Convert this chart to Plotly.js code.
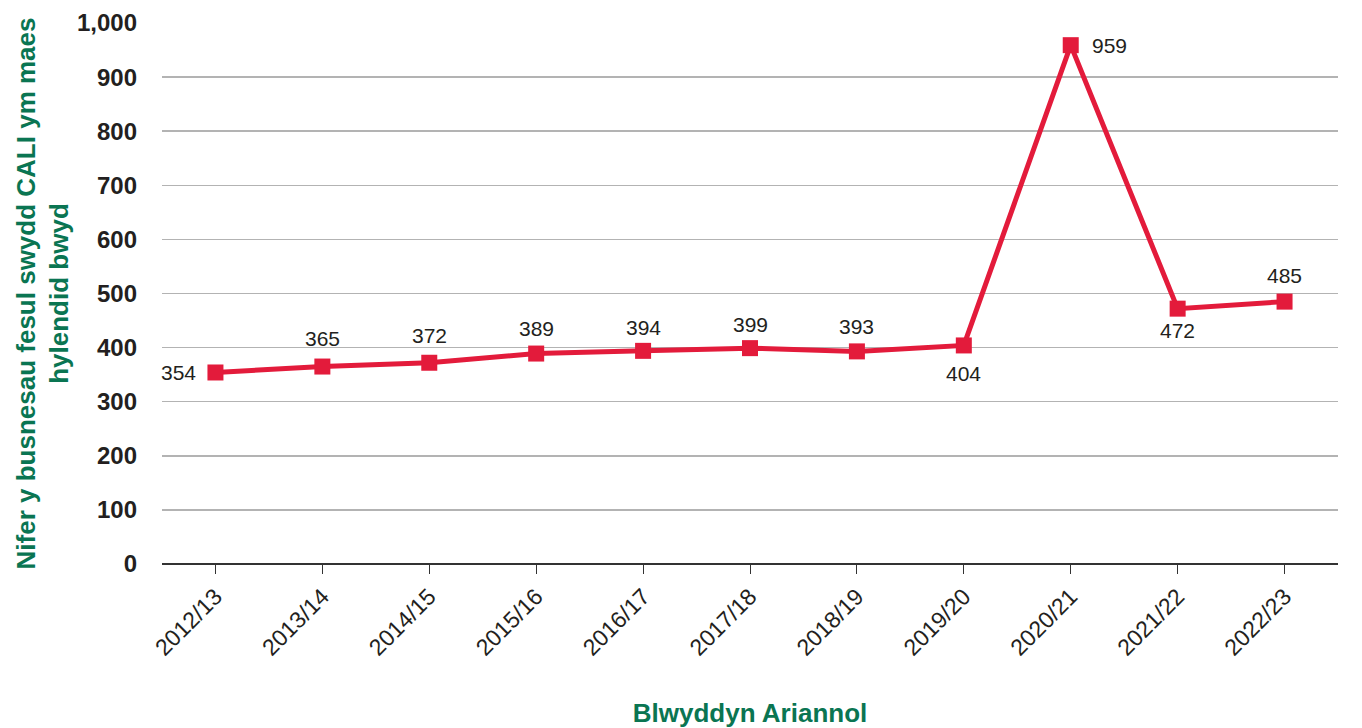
<!DOCTYPE html>
<html>
<head>
<meta charset="utf-8">
<script src="https://cdn.plot.ly/plotly-3.0.1.min.js"></script>
<style>html,body{margin:0;padding:0;background:#fff;}#chart{width:1362px;height:728px;}</style>
</head>
<body>
<div id="chart"></div>
<script>
const years = ["2012/13","2013/14","2014/15","2015/16","2016/17","2017/18","2018/19","2019/20","2020/21","2021/22","2022/23"];
const businessesPerOfficer = [354,365,372,389,394,399,393,404,959,472,485];
const yTickValues = [0,100,200,300,400,500,600,700,800,900,1000];

// label placement (style only): side of marker and pixel offset
const labelSide = ["left","top","top","top","top","top","top","bottom","right","bottom","top"];
const labelGap  = [17,28,27,25,23,24,25,28,19,22,26];

const green = "#0a7552";
const dark = "#231f20";
const fontFam = "Liberation Sans, Arial, sans-serif";

const trace = {
  x: years,
  y: businessesPerOfficer,
  type: "scatter",
  mode: "lines+markers",
  line: {color: "#e31b3b", width: 5},
  marker: {symbol: "square", size: 16, color: "#e31b3b"},
  cliponaxis: false,
  hoverinfo: "x+y"
};

const annotations = businessesPerOfficer.map((v, i) => {
  const side = labelSide[i], g = labelGap[i];
  const a = {
    x: years[i], y: v, xref: "x", yref: "y",
    text: String(v), showarrow: false,
    font: {family: fontFam, size: 21, color: dark},
    xanchor: "center", yanchor: "middle", xshift: 0, yshift: 0
  };
  if (side === "top") a.yshift = g;
  if (side === "bottom") a.yshift = -g;
  if (side === "left") { a.xanchor = "right"; a.xshift = -g; }
  if (side === "right") { a.xanchor = "left"; a.xshift = g; }
  return a;
});

const layout = {
  width: 1362, height: 728,
  margin: {l: 162, r: 24, t: 23, b: 164},
  paper_bgcolor: "#fff", plot_bgcolor: "#fff",
  showlegend: false,
  font: {family: fontFam, color: dark},
  annotations: annotations,
  xaxis: {
    type: "category",
    range: [-0.5, 10.5],
    tickangle: -45,
    tickfont: {size: 23, color: dark},
    ticks: "outside", ticklen: 9, tickcolor: "#333", tickwidth: 1,
    showline: false, showgrid: false, zeroline: false,
    title: {text: "<b>Blwyddyn Ariannol</b>", font: {size: 26, color: green}, standoff: 44}
  },
  yaxis: {
    range: [0, 1000],
    tickvals: yTickValues,
    tickformat: ",d",
    tickfont: {size: 24, color: dark, weight: "bold"},
    ticks: "", ticklabelstandoff: 24,
    showgrid: true, gridcolor: "#b3b3b3", gridwidth: 1.5,
    zeroline: true, zerolinecolor: "#333", zerolinewidth: 2,
    showline: false,
    title: {text: "<b>Nifer y busnesau fesul swydd CALI ym maes<br>hylendid bwyd</b>", font: {size: 26, color: green}, standoff: 0}
  }
};

Plotly.newPlot("chart", [trace], layout, {displayModeBar: false, staticPlot: true});
</script>
</body>
</html>
